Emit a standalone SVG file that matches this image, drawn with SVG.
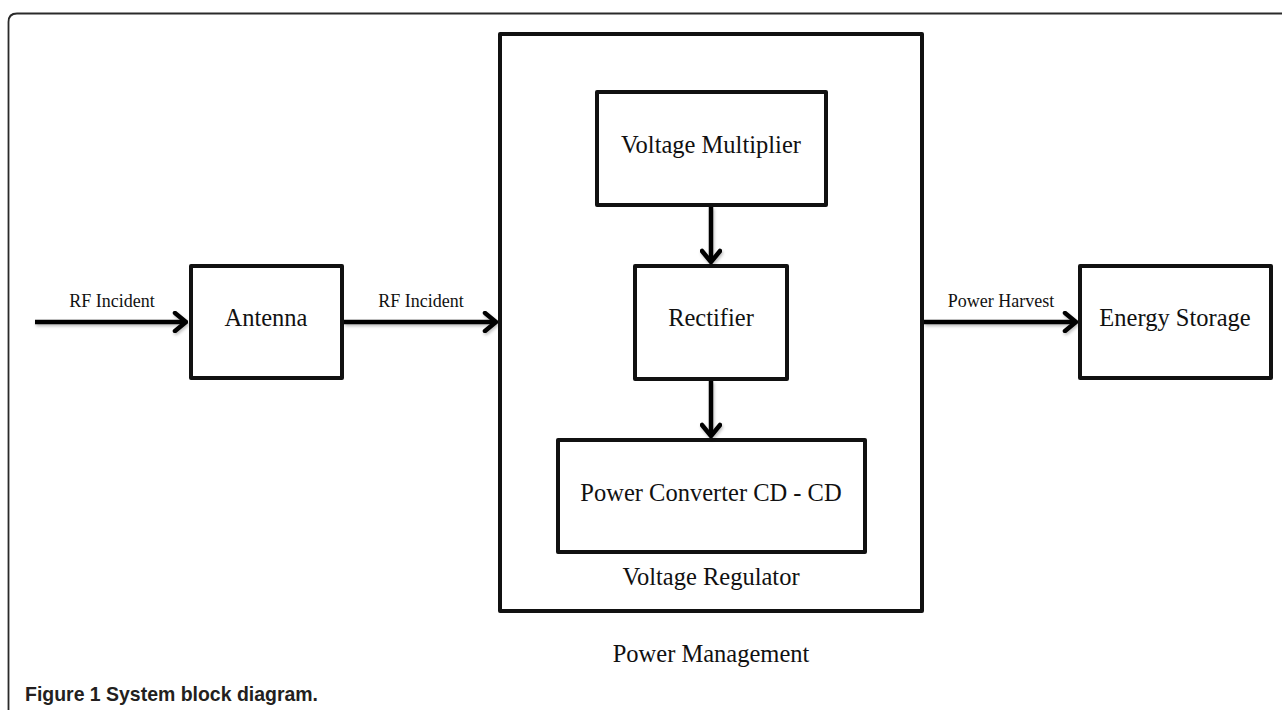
<svg xmlns="http://www.w3.org/2000/svg" width="1282" height="710" viewBox="0 0 1282 710">
  <style>
    .box { fill: #ffffff; stroke: #111111; stroke-width: 4; stroke-linejoin: round; }
    .lbl { font-family: "Liberation Serif", "Times New Roman", serif; fill: #111111; text-anchor: middle; }
    .big { font-size: 24.5px; }
    .small { font-size: 18px; }
    .conn { stroke: #000000; stroke-width: 4.5; fill: none; }
    .cap { font-family: "Liberation Sans", Arial, sans-serif; font-weight: bold; font-size: 21px; fill: #231f20; }
  </style>
  <defs>
    <marker id="chev" viewBox="-14 -11 16 22" markerUnits="userSpaceOnUse" markerWidth="16" markerHeight="22" refX="0" refY="0" orient="auto">
      <path d="M -11 -9 L 0 0 L -11 9" fill="none" stroke="#000000" stroke-width="4.5" stroke-linecap="round" stroke-linejoin="miter"/>
    </marker>
    <filter id="sh" x="-10%" y="-50%" width="120%" height="200%">
      <feDropShadow dx="1" dy="2" stdDeviation="1.5" flood-color="#000000" flood-opacity="0.25"/>
    </filter>
  </defs>

  <rect width="1282" height="710" fill="#ffffff"/>

  <!-- frame -->
  <path id="frame" d="M 8.5 710 L 8.5 22 Q 8.5 13.5 17 13.5 L 1282 13.5" fill="none" stroke="#2a2a2a" stroke-width="1.8"/>

  <g id="power-management">
    <rect class="box" x="500" y="34" width="422" height="577"/>
    <text class="lbl big" x="711" y="662">Power Management</text>
  </g>

  <g id="antenna">
    <rect class="box" x="191" y="266" width="151" height="112"/>
    <text class="lbl big" x="266" y="326">Antenna</text>
  </g>

  <g id="voltage-multiplier">
    <rect class="box" x="597" y="92" width="229" height="113"/>
    <text class="lbl big" x="711" y="153">Voltage Multiplier</text>
  </g>

  <g id="rectifier">
    <rect class="box" x="635" y="266" width="152" height="113"/>
    <text class="lbl big" x="711" y="326">Rectifier</text>
  </g>

  <g id="power-converter">
    <rect class="box" x="558" y="440" width="307" height="112"/>
    <text class="lbl big" x="711" y="501">Power Converter CD - CD</text>
  </g>

  <g id="voltage-regulator">
    <text class="lbl big" x="711" y="585">Voltage Regulator</text>
  </g>

  <g id="energy-storage">
    <rect class="box" x="1080" y="266" width="191" height="112"/>
    <text class="lbl big" x="1175" y="326">Energy Storage</text>
  </g>

  <g id="connectors" filter="url(#sh)">
    <line class="conn" x1="35" y1="322" x2="186" y2="322" marker-end="url(#chev)"/>
    <line class="conn" x1="344" y1="322" x2="496" y2="322" marker-end="url(#chev)"/>
    <line class="conn" x1="924" y1="322" x2="1076" y2="322" marker-end="url(#chev)"/>
    <line class="conn" x1="711" y1="207" x2="711" y2="262" marker-end="url(#chev)"/>
    <line class="conn" x1="711" y1="381" x2="711" y2="436" marker-end="url(#chev)"/>
  </g>

  <g id="connector-labels">
    <text class="lbl small" x="112" y="307">RF Incident</text>
    <text class="lbl small" x="421" y="307">RF Incident</text>
    <text class="lbl small" x="1001" y="307">Power Harvest</text>
  </g>

  <text id="caption" class="cap" x="25" y="701" textLength="293" lengthAdjust="spacingAndGlyphs">Figure 1 System block diagram.</text>
</svg>
